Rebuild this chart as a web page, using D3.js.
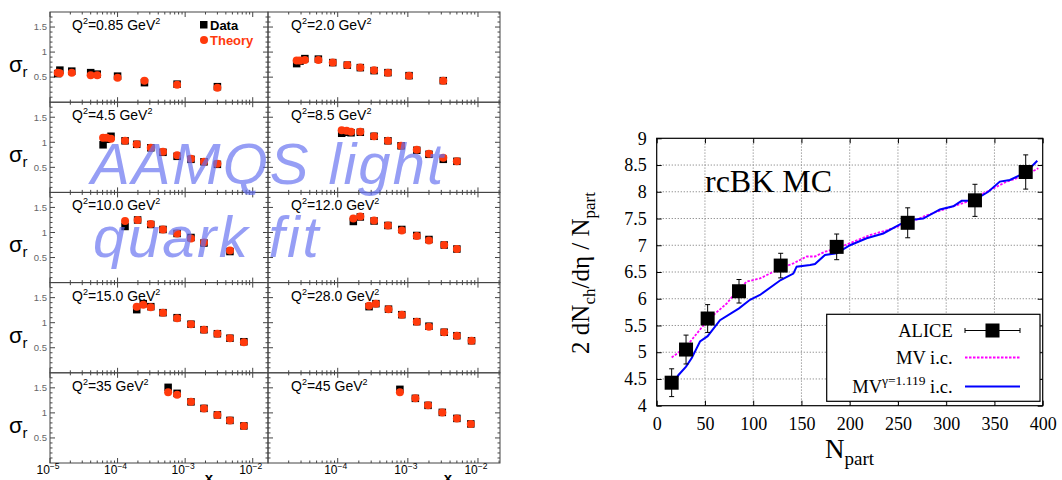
<!DOCTYPE html>
<html><head><meta charset="utf-8">
<script src="https://cdn.jsdelivr.net/npm/d3@7"></script>
<style>body{margin:0;background:#fff}svg{display:block}</style>
</head><body>
<svg id="c" width="1062" height="480"></svg>
<script>
// ---------------- Left figure data (reduced cross section sigma_r vs x) ----------------
const q2Labels = ["0.85", "2.0", "4.5", "8.5", "10.0", "12.0", "15.0", "28.0", "35", "45"];

const xQ085 = [1.3e-5, 1.4e-5, 2.1e-5, 4.0e-5, 5.0e-5, 1.0e-4, 2.5e-4, 7.6e-4, 3.0e-3];
const dataQ085 = [0.57, 0.64, 0.62, 0.59, 0.56, 0.52, 0.39, 0.36, 0.31];
const theoQ085 = [0.59, 0.58, 0.59, 0.54, 0.54, 0.49, 0.43, 0.35, 0.29];

const xQ20 = [2.6e-5, 2.9e-5, 3.4e-5, 5.3e-5, 8.5e-5, 1.37e-4, 2.1e-4, 3.3e-4, 5.2e-4, 1.04e-3, 3.2e-3];
const dataQ20 = [0.77, 0.82, 0.87, 0.86, 0.79, 0.74, 0.69, 0.63, 0.59, 0.53, 0.43];
const theoQ20 = [0.83, 0.83, 0.84, 0.84, 0.79, 0.74, 0.69, 0.64, 0.59, 0.53, 0.43];

const xQ45 = [6.1e-5, 6.9e-5, 8.0e-5, 1.29e-4, 1.92e-4, 3.1e-4, 4.7e-4, 7.6e-4, 1.22e-3, 1.9e-3, 3.0e-3];
const dataQ45 = [0.95, 1.06, 1.12, 1.03, 0.96, 0.89, 0.80, 0.72, 0.66, 0.61, 0.56];
const theoQ45 = [1.09, 1.09, 1.07, 1.03, 0.96, 0.89, 0.81, 0.74, 0.67, 0.61, 0.57];

const xQ85 = [1.14e-4, 1.34e-4, 1.55e-4, 2.1e-4, 3.3e-4, 5.2e-4, 8.0e-4, 1.34e-3, 2.0e-3, 3.2e-3, 5.0e-3];
const dataQ85 = [1.18, 1.20, 1.19, 1.20, 1.12, 1.03, 0.93, 0.84, 0.76, 0.66, 0.62];
const theoQ85 = [1.24, 1.23, 1.21, 1.21, 1.12, 1.03, 0.93, 0.85, 0.77, 0.69, 0.62];

const xQ100 = [1.29e-4, 1.98e-4, 3.1e-4, 4.7e-4, 7.6e-4, 1.22e-3, 1.9e-3, 4.6e-3];
const dataQ100 = [1.12, 1.25, 1.16, 1.06, 0.98, 0.90, 0.79, 0.62];
const theoQ100 = [1.23, 1.25, 1.17, 1.06, 0.98, 0.88, 0.80, 0.64];

const xQ120 = [1.67e-4, 2.1e-4, 3.3e-4, 5.2e-4, 8.2e-4, 1.34e-3, 2.0e-3, 3.3e-3, 5.0e-3];
const dataQ120 = [1.22, 1.31, 1.23, 1.14, 1.06, 0.94, 0.86, 0.75, 0.67];
const theoQ120 = [1.28, 1.32, 1.24, 1.14, 1.04, 0.93, 0.84, 0.75, 0.67];

const xQ150 = [1.92e-4, 2.4e-4, 3.1e-4, 4.7e-4, 7.6e-4, 1.22e-3, 1.9e-3, 3.0e-3, 4.6e-3, 7.4e-3];
const dataQ150 = [1.26, 1.38, 1.32, 1.20, 1.10, 0.97, 0.86, 0.78, 0.69, 0.62];
const theoQ150 = [1.32, 1.36, 1.31, 1.20, 1.09, 0.97, 0.86, 0.78, 0.69, 0.61];

const xQ280 = [2.8e-4, 3.5e-4, 5.3e-4, 8.2e-4, 1.34e-3, 2.0e-3, 3.3e-3, 5.0e-3, 8.1e-3];
const dataQ280 = [1.32, 1.38, 1.27, 1.16, 1.02, 0.93, 0.81, 0.74, 0.64];
const theoQ280 = [1.34, 1.38, 1.27, 1.16, 1.02, 0.92, 0.81, 0.74, 0.64];

const xQ35 = [5.6e-4, 7.6e-4, 1.22e-3, 1.9e-3, 3.0e-3, 4.6e-3, 7.4e-3];
const dataQ35 = [1.51, 1.39, 1.22, 1.09, 0.96, 0.85, 0.74];
const theoQ35 = [1.41, 1.36, 1.22, 1.09, 0.96, 0.85, 0.74];

const xQ45b = [7.7e-4, 1.28e-3, 1.94e-3, 3.1e-3, 5.0e-3, 7.9e-3];
const dataQ45b = [1.47, 1.29, 1.15, 1.01, 0.89, 0.78];
const theoQ45b = [1.41, 1.29, 1.15, 1.01, 0.89, 0.78];

const yTickLabels = ["0.5", "1", "1.5"];
const xDecades = [-5, -4, -3, -2];
const xLabelDecadesLeft = [-5, -4, -3, -2];
const xLabelDecadesRight = [-4, -3, -2];

// ---------------- Right figure data (rcBK MC) ----------------
const npartAlice = [15.5, 30.4, 52.8, 85.3, 128.5, 186.5, 260.1, 329.8, 382.4];
const aliceVal = [4.43, 5.05, 5.63, 6.14, 6.62, 6.97, 7.42, 7.84, 8.37];
const aliceErr = [0.26, 0.27, 0.26, 0.22, 0.23, 0.24, 0.28, 0.30, 0.32];

const mvN = [15.5, 30.4, 52.8, 72.5, 85.3, 93.3, 107, 128.5, 141.6, 155.4, 164, 174.4, 186.5, 200.3, 221, 238.3, 260, 279.8, 300.5, 321, 342, 362.7, 382.4, 395.5];
const mvVal = [4.90, 5.10, 5.60, 5.91, 6.19, 6.32, 6.38, 6.57, 6.66, 6.79, 6.79, 6.88, 6.94, 7.04, 7.19, 7.28, 7.41, 7.56, 7.69, 7.81, 8.00, 8.19, 8.31, 8.44];

const mvgN = [15.5, 22.4, 30.4, 36.3, 44.9, 52.8, 65.6, 85.3, 96.7, 107, 128.5, 141.6, 145, 158.9, 164, 174.4, 186.5, 200.3, 217.6, 234.8, 252.1, 262.4, 276.2, 293.5, 307.3, 316, 328, 343.6, 355.6, 366, 376.4, 386.8, 394.4];
const mvgVal = [4.36, 4.57, 4.73, 4.89, 5.20, 5.30, 5.60, 5.82, 5.98, 6.07, 6.35, 6.47, 6.60, 6.63, 6.65, 6.82, 6.85, 7.00, 7.13, 7.22, 7.39, 7.47, 7.50, 7.67, 7.73, 7.83, 7.83, 8.00, 8.19, 8.22, 8.31, 8.44, 8.58];

const xTicksR = [0, 50, 100, 150, 200, 250, 300, 350, 400];
const yTicksR = [4, 4.5, 5, 5.5, 6, 6.5, 7, 7.5, 8, 8.5, 9];

// ======================================================================
const svg = d3.select("#c");
const RED = "#ff3a0c";
const SANS = "'Liberation Sans', Arial, Helvetica, sans-serif";
const SERIF = "'Liberation Serif', 'Times New Roman', serif";

const panels = [
  {x: xQ085, d: dataQ085, t: theoQ085},
  {x: xQ20, d: dataQ20, t: theoQ20},
  {x: xQ45, d: dataQ45, t: theoQ45},
  {x: xQ85, d: dataQ85, t: theoQ85},
  {x: xQ100, d: dataQ100, t: theoQ100},
  {x: xQ120, d: dataQ120, t: theoQ120},
  {x: xQ150, d: dataQ150, t: theoQ150},
  {x: xQ280, d: dataQ280, t: theoQ280},
  {x: xQ35, d: dataQ35, t: theoQ35},
  {x: xQ45b, d: dataQ45b, t: theoQ45b}
];

const xScales = [
  d3.scaleLog().domain([1e-5, Math.pow(10, -1.774)]).range([50, 268]),
  d3.scaleLog().domain([Math.pow(10, -4.994), Math.pow(10, -1.686)]).range([268, 500])
];
const rowTop0 = 12, rowH = 90.2;

const frameG = svg.append("g");
const markG = svg.append("g");

panels.forEach((p, i) => {
  const row = Math.floor(i / 2), col = i % 2;
  const xs = xScales[col];
  const top = rowTop0 + row * rowH, bot = top + rowH;
  const ys = d3.scaleLinear().domain([0, 1.8]).range([bot, top]);
  const [x0, x1] = xs.range();
  const g = frameG.append("g");
  g.append("rect").attr("x", x0).attr("y", top).attr("width", x1 - x0).attr("height", rowH)
    .attr("fill", "none").attr("stroke", "#444").attr("stroke-width", 1);
  // y ticks (both sides)
  d3.range(1, 18).forEach(k => {
    const v = k / 10, yy = ys(v);
    const major = (k % 5 === 0);
    const len = major ? 5 : 2.5;
    g.append("line").attr("x1", x0).attr("x2", x0 + len).attr("y1", yy).attr("y2", yy).attr("stroke", "#444");
    g.append("line").attr("x1", x1).attr("x2", x1 - len).attr("y1", yy).attr("y2", yy).attr("stroke", "#444");
  });
  if (col === 0) {
    yTickLabels.forEach(lbl => {
      g.append("text").attr("x", x0 - 3).attr("y", ys(+lbl) + 3.3).attr("text-anchor", "end")
        .attr("font-family", SANS).attr("font-size", 9.5).attr("fill", "#666").text(lbl);
    });
    const st = g.append("text").attr("x", 9).attr("y", top + 60).attr("font-family", SANS).attr("font-size", 22).attr("fill", "#000");
    st.append("tspan").text("σ");
    st.append("tspan").attr("font-size", 15).attr("dy", 5).text("r");
  }
  // x ticks (top and bottom)
  xDecades.forEach(dec => {
    d3.range(1, 10).forEach(m => {
      const v = m * Math.pow(10, dec);
      const [lo, hi] = xs.domain();
      if (v < lo * 0.999 || v > hi) return;
      const xx = xs(v);
      const len = m === 1 ? 5 : 2.5;
      g.append("line").attr("x1", xx).attr("x2", xx).attr("y1", bot).attr("y2", bot - len).attr("stroke", "#444");
      g.append("line").attr("x1", xx).attr("x2", xx).attr("y1", top).attr("y2", top + len).attr("stroke", "#444");
    });
  });
  // Q2 label
  const ql = g.append("text").attr("x", x0 + (col === 0 ? 22 : 23)).attr("y", top + 18)
    .attr("font-family", SANS).attr("font-size", 14).attr("fill", "#000");
  ql.append("tspan").text("Q");
  ql.append("tspan").attr("font-size", 9).attr("dy", -6).text("2");
  ql.append("tspan").attr("dy", 6).text("=" + q2Labels[i] + " GeV");
  ql.append("tspan").attr("font-size", 9).attr("dy", -6).text("2");

  // bottom row x labels
  if (row === 4) {
    const decs = col === 0 ? xLabelDecadesLeft : xLabelDecadesRight;
    decs.forEach(dec => {
      const xx = xs(Math.pow(10, dec));
      const t = svg.append("text").attr("x", xx - 2).attr("y", 474).attr("text-anchor", "middle")
        .attr("font-family", SANS).attr("font-size", 12).attr("fill", "#000");
      t.append("tspan").text("10");
      t.append("tspan").attr("font-size", 8.5).attr("dy", -5).text(String(dec).replace("-", "\u2212"));
    });
    svg.append("text").attr("x", col === 0 ? x1 - 59 : x1 - 52).attr("y", 483).attr("text-anchor", "middle")
      .attr("font-family", SANS).attr("font-weight", "bold").attr("font-size", 15).attr("fill", "#000").text("x");
  }

  // markers: data squares then theory circles
  const sq = 7.5;
  p.x.forEach((xv, j) => {
    markG.append("rect").attr("x", xs(xv) - sq / 2).attr("y", ys(p.d[j]) - sq / 2)
      .attr("width", sq).attr("height", sq).attr("fill", "#000");
  });
  p.x.forEach((xv, j) => {
    markG.append("circle").attr("cx", xs(xv)).attr("cy", ys(p.t[j])).attr("r", 4).attr("fill", RED);
  });
});

// legend of left figure
markG.append("rect").attr("x", 200).attr("y", 21).attr("width", 7.5).attr("height", 7.5).attr("fill", "#000");
markG.append("text").attr("x", 210).attr("y", 29.5).attr("font-family", SANS).attr("font-weight", "bold")
  .attr("font-size", 13).attr("fill", "#000").text("Data");
markG.append("circle").attr("cx", 204).attr("cy", 40).attr("r", 4).attr("fill", RED);
markG.append("text").attr("x", 210).attr("y", 44.5).attr("font-family", SANS).attr("font-weight", "bold")
  .attr("font-size", 13).attr("fill", RED).text("Theory");

// watermark
svg.append("text").attr("x", 91).attr("y", 184).attr("font-family", SANS).attr("font-style", "italic")
  .attr("font-size", 58).attr("letter-spacing", 2).attr("fill", "#6470f0").attr("fill-opacity", 0.68).text("AAMQS light");
svg.append("text").attr("x", 93).attr("y", 257).attr("font-family", SANS).attr("font-style", "italic")
  .attr("font-size", 58).attr("letter-spacing", 2.4).attr("fill", "#6470f0").attr("fill-opacity", 0.68).text("quark fit");

// ======================= Right figure =======================
const rx = d3.scaleLinear().domain([0, 400]).range([656.7, 1042.7]);
const ry = d3.scaleLinear().domain([4, 9]).range([405.7, 138.3]);
const R = svg.append("g");

// grid
const grid = R.append("g").attr("stroke", "#888").attr("stroke-width", 1).attr("stroke-dasharray", "1.2,1.8");
xTicksR.slice(1, -1).forEach(v => grid.append("line").attr("x1", rx(v)).attr("x2", rx(v)).attr("y1", ry(4)).attr("y2", ry(9)));
yTicksR.slice(1, -1).forEach(v => grid.append("line").attr("x1", rx(0)).attr("x2", rx(400)).attr("y1", ry(v)).attr("y2", ry(v)));

// axes
const axB = d3.axisBottom(rx).tickValues(xTicksR).tickSize(-5).tickPadding(12).tickFormat(d3.format("d"));
const axT = d3.axisTop(rx).tickValues(xTicksR).tickSize(-5).tickFormat("");
const axL = d3.axisLeft(ry).tickValues(yTicksR).tickSize(-5).tickPadding(10).tickFormat(d => String(d));
const axRt = d3.axisRight(ry).tickValues(yTicksR).tickSize(-5).tickFormat("");
function styleAxis(sel) {
  sel.select(".domain").remove();
  sel.selectAll("line").attr("stroke", "#000");
  sel.selectAll("text").attr("font-family", SERIF).attr("font-size", 18).attr("fill", "#000");
}
R.append("g").attr("transform", `translate(0,${ry(4)})`).call(axB).call(styleAxis);
R.append("g").attr("transform", `translate(0,${ry(9)})`).call(axT).call(styleAxis);
R.append("g").attr("transform", `translate(${rx(0)},0)`).call(axL).call(styleAxis);
R.append("g").attr("transform", `translate(${rx(400)},0)`).call(axRt).call(styleAxis);

R.append("rect").attr("x", rx(0)).attr("y", ry(9)).attr("width", rx(400) - rx(0)).attr("height", ry(4) - ry(9))
  .attr("fill", "none").attr("stroke", "#000").attr("stroke-width", 1.2);

// curves
R.append("clipPath").attr("id", "rclip").append("rect")
  .attr("x", rx(0)).attr("y", ry(9)).attr("width", rx(400) - rx(0)).attr("height", ry(4) - ry(9));
const line = d3.line().x(d => rx(d[0])).y(d => ry(d[1]));
R.append("path").datum(mvN.map((n, i) => [n, mvVal[i]])).attr("d", line)
  .attr("fill", "none").attr("stroke", "#ff00ff").attr("stroke-width", 1.8).attr("stroke-dasharray", "2.5,1.5")
  .attr("clip-path", "url(#rclip)");
R.append("path").datum(mvgN.map((n, i) => [n, mvgVal[i]])).attr("d", line)
  .attr("fill", "none").attr("stroke", "#0000ff").attr("stroke-width", 2)
  .attr("clip-path", "url(#rclip)");

// ALICE points with error bars
const sqR = 14;
npartAlice.forEach((n, i) => {
  const cx = rx(n), cy = ry(aliceVal[i]);
  const yt = ry(aliceVal[i] + aliceErr[i]), yb = ry(aliceVal[i] - aliceErr[i]);
  R.append("line").attr("x1", cx).attr("x2", cx).attr("y1", yt).attr("y2", yb).attr("stroke", "#000");
  R.append("line").attr("x1", cx - 2.5).attr("x2", cx + 2.5).attr("y1", yt).attr("y2", yt).attr("stroke", "#000");
  R.append("line").attr("x1", cx - 2.5).attr("x2", cx + 2.5).attr("y1", yb).attr("y2", yb).attr("stroke", "#000");
  R.append("rect").attr("x", cx - sqR / 2).attr("y", cy - sqR / 2).attr("width", sqR).attr("height", sqR).attr("fill", "#000");
});

// rcBK MC label
R.append("text").attr("x", 705).attr("y", 192).attr("font-family", SERIF).attr("font-size", 32).attr("fill", "#000").text("rcBK MC");

// legend
const lg = R.append("g");
lg.append("rect").attr("x", 826.7).attr("y", 314.3).attr("width", 213.3).attr("height", 87)
  .attr("fill", "#fff").attr("stroke", "#000").attr("stroke-width", 1.2);
const lgTx = 952.7, lx0 = 965, lx1 = 1020;
const l1 = 330.5, l2 = 357.5, l3 = 386.5;
lg.append("text").attr("x", lgTx).attr("y", l1 + 6).attr("text-anchor", "end").attr("font-family", SERIF).attr("font-size", 18.5).text("ALICE");
lg.append("line").attr("x1", lx0).attr("x2", lx1).attr("y1", l1).attr("y2", l1).attr("stroke", "#000");
lg.append("line").attr("x1", lx0).attr("x2", lx0).attr("y1", l1 - 2.5).attr("y2", l1 + 2.5).attr("stroke", "#000");
lg.append("line").attr("x1", lx1).attr("x2", lx1).attr("y1", l1 - 2.5).attr("y2", l1 + 2.5).attr("stroke", "#000");
lg.append("rect").attr("x", (lx0 + lx1) / 2 - 7).attr("y", l1 - 7).attr("width", 14).attr("height", 14).attr("fill", "#000");
lg.append("text").attr("x", lgTx).attr("y", l2 + 6).attr("text-anchor", "end").attr("font-family", SERIF).attr("font-size", 18.5).text("MV i.c.");
lg.append("line").attr("x1", lx0).attr("x2", lx1).attr("y1", l2).attr("y2", l2)
  .attr("stroke", "#ff00ff").attr("stroke-width", 1.8).attr("stroke-dasharray", "2.5,1.5");
const t3 = lg.append("text").attr("x", lgTx).attr("y", l3 + 6).attr("text-anchor", "end").attr("font-family", SERIF).attr("font-size", 18.5);
t3.append("tspan").text("MV");
t3.append("tspan").attr("font-size", 13.5).attr("dy", -8).text("γ=1.119");
t3.append("tspan").attr("dy", 8).text(" i.c.");
lg.append("line").attr("x1", lx0).attr("x2", lx1).attr("y1", l3).attr("y2", l3).attr("stroke", "#0000ff").attr("stroke-width", 2);

// axis titles
const yt = R.append("text").attr("transform", `translate(589,273) rotate(-90)`).attr("text-anchor", "middle")
  .attr("font-family", SERIF).attr("font-size", 25).attr("fill", "#000");
yt.append("tspan").text("2 dN");
yt.append("tspan").attr("font-size", 17).attr("dy", 6).text("ch");
yt.append("tspan").attr("dy", -6).text("/dη / N");
yt.append("tspan").attr("font-size", 17).attr("dy", 6).text("part");

const xt = R.append("text").attr("x", 825).attr("y", 458).attr("font-family", SERIF).attr("font-size", 27).attr("fill", "#000");
xt.append("tspan").text("N");
xt.append("tspan").attr("font-size", 19).attr("dy", 7).text("part");
</script>
</body></html>
